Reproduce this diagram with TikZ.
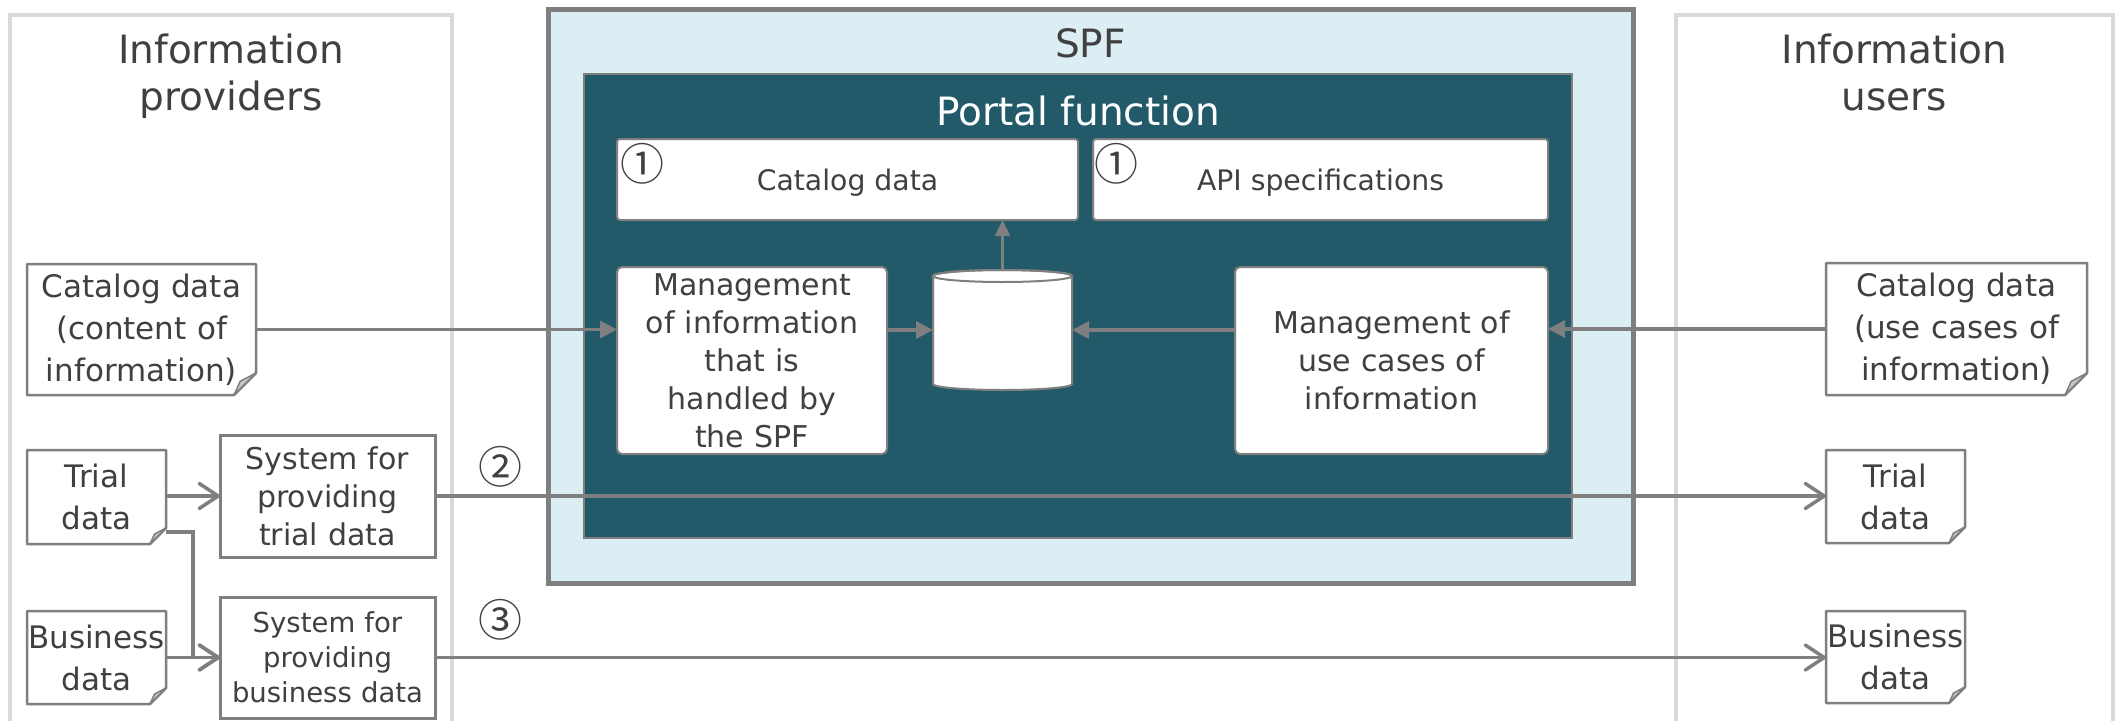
\documentclass[tikz,border=0pt]{standalone}
\usepackage{fontspec}
\setmainfont{DejaVu Sans}
\newfontfamily\cjkfont{Noto Sans CJK JP}
\usetikzlibrary{arrows.meta}
\definecolor{txt}{HTML}{404040}
\definecolor{ln}{HTML}{7F7F7F}
\definecolor{pnl}{HTML}{D9D9D9}
\definecolor{spfbg}{HTML}{DAEEF3}
\definecolor{portalbg}{HTML}{235A69}
\definecolor{foldc}{HTML}{C8C8C8}
\newcommand\fsz[2]{\fontsize{#1}{#2}\selectfont}
\newcommand\foldnote[2]{%
  \draw[ln, line width=2.5pt, line join=round] (#1.north west) -- (#1.north east) -- ([yshift=#2]#1.south east) -- ([xshift=-#2]#1.south east) -- (#1.south west) -- cycle;
  \draw[ln, line width=1.5pt, fill=foldc, line join=round] ([yshift=#2]#1.south east) -- ([xshift=-#2]#1.south east) -- ([xshift=-0.72*#2, yshift=0.62*#2]#1.south east) -- cycle;
}
\begin{document}
\begin{tikzpicture}[x=1pt,y=-1pt,
  every node/.style={text=txt, inner sep=0pt, outer sep=0pt},
  panel/.style={draw=pnl, line width=4pt, fill=white, anchor=north west},
  heading/.style={font=\fsz{39}{47}, align=center, text width=420pt, anchor=base},
  notebox/.style={font=\fsz{31}{42}, align=center},
  topbox/.style={draw=ln, line width=2pt, fill=white, rounded corners=3pt, font=\fsz{28.3}{34}, text depth=0pt},
  mgbox/.style={draw=ln, line width=2pt, fill=white, rounded corners=5pt, font=\fsz{30}{38}, align=center},
  sysbox/.style={draw=ln, line width=3pt, fill=white, align=center},
  circnum/.style={font=\cjkfont\fsz{44}{50}},
  fa/.style={draw=ln, line width=3.5pt, -{Triangle[length=17pt,width=17pt]}},
  oa/.style={draw=ln, line width=3.5pt, -{Straight Barb[length=19pt,width=25pt,round]}},
]
\useasboundingbox (0,0) rectangle (2125,720);

% side panels
\node[panel, minimum width=442pt, minimum height=720pt] (lp) at (10,15) {};
\node[panel, minimum width=437pt, minimum height=720pt] (rp) at (1676,15) {};
\node[heading] (hl) at (231,63) {Information\\providers};
\node[heading] (hr) at (1894.5,63) {Information\\users};

% SPF
\node[draw=ln, line width=5pt, fill=spfbg, minimum width=1085pt, minimum height=574pt] (spf) at (1090.5,296) {};
\node[font=\fsz{39}{47}, anchor=base] (spfl) at (1090.5,57) {SPF};
\node[draw=ln, line width=2pt, fill=portalbg, minimum width=988pt, minimum height=464pt] (portal) at (1078,306) {};
\node[font=\fsz{39}{47}, text=white, anchor=base] (pfl) at (1078,125) {Portal function};

% portal contents
\node[topbox, minimum width=461pt, minimum height=81pt] (cat) at (847.5,179.5) {Catalog data};
\node[topbox, minimum width=455pt, minimum height=81pt] (api) at (1320.5,179.5) {API specifications};
\node[circnum] (n1a) at (642,164) {①};
\node[circnum] (n1b) at (1116,164) {①};
\node[mgbox, minimum width=270pt, minimum height=187pt, text width=262pt] (mgl) at (752,360.5) {Management\\of information\\that is\\handled by\\the SPF};
\node[mgbox, minimum width=313pt, minimum height=187pt, text width=305pt] (mgr) at (1391.5,360.5) {Management of\\use cases of\\information};

% database cylinder
\node[minimum width=139pt, minimum height=120pt] (db) at (1002.5,330) {};
\draw[ln, line width=2pt, fill=white] (933,276) -- (933,384) arc[start angle=180, end angle=360, x radius=69.5pt, y radius=6pt] -- (1072,276) arc[start angle=0, end angle=180, x radius=69.5pt, y radius=6pt] -- cycle;
\draw[ln, line width=2pt] (1002.5,276) ellipse [x radius=69.5pt, y radius=6pt];

% notes
\node[notebox, minimum width=229pt, minimum height=131pt, text width=229pt] (ncl) at (141.5,329.5) {Catalog data\\(content of\\information)};
\foldnote{ncl}{22pt}
\node[notebox, minimum width=261pt, minimum height=132pt, text width=261pt] (ncr) at (1956.5,329) {Catalog data\\(use cases of\\information)};
\foldnote{ncr}{22pt}
\node[notebox, minimum width=139pt, minimum height=94pt, text width=139pt] (ntl) at (96.5,497) {Trial\\data};
\foldnote{ntl}{16pt}
\node[notebox, minimum width=139pt, minimum height=93pt, text width=139pt] (nbl) at (96.5,657.5) {Business\\data};
\foldnote{nbl}{16pt}
\node[notebox, minimum width=139pt, minimum height=93pt, text width=139pt] (ntr) at (1895.5,496.5) {Trial\\data};
\foldnote{ntr}{16pt}
\node[notebox, minimum width=139pt, minimum height=92pt, text width=139pt] (nbr) at (1895.5,657) {Business\\data};
\foldnote{nbr}{16pt}

% systems
\node[sysbox, font=\fsz{30}{38}, minimum width=215pt, minimum height=122pt, text width=207pt] (syst) at (327.5,496) {System for\\providing\\trial data};
\node[sysbox, font=\fsz{27.5}{35}, minimum width=215pt, minimum height=121pt, text width=207pt] (sysb) at (327.5,657.5) {System for\\providing\\business data};
\node[circnum] (n2) at (500,467) {②};
\node[circnum] (n3) at (500,620) {③};

% connectors
\draw[fa] (ncl.east) -- (ncl.east -| mgl.west);
\draw[fa] (mgl.east |- db.west) -- (db.west);
\draw[fa] (mgr.west |- db.east) -- (db.east);
\draw[fa] (ncr.west) -- (ncr.west -| mgr.east);
\draw[draw=ln, line width=2.5pt, -{Triangle[length=16pt,width=15pt]}] (db.north) -- (db.north |- cat.south);
\draw[oa] (ntl.east |- syst.west) -- (syst.west);
\draw[oa] (nbl.east) -- (sysb.west);
\draw[oa] ([yshift=12pt]ntl.south east) -| ([xshift=-27pt]sysb.west) -- (sysb.west);
\draw[oa] (syst.east) -- (syst.east -| ntr.west);
\draw[oa] (sysb.east) -- (sysb.east -| nbr.west);
\end{tikzpicture}
\end{document}
